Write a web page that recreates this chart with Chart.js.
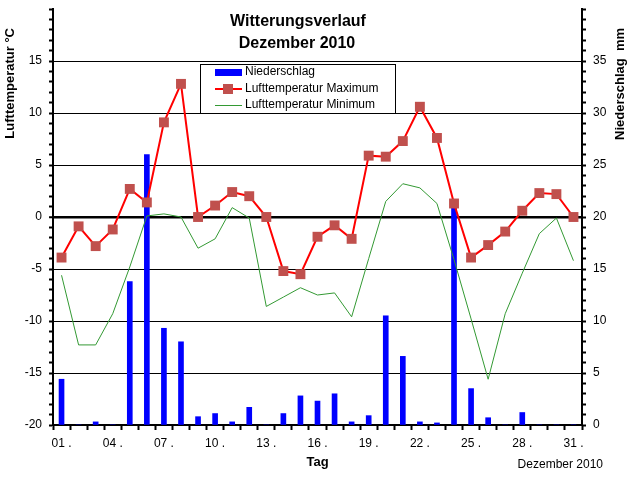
<!DOCTYPE html>
<html>
<head>
<meta charset="utf-8">
<script src="https://cdn.jsdelivr.net/npm/chart.js@4"></script>
<style>
  body { margin: 0; background: #fff; }
  #wrap { width: 631px; height: 481px; }
</style>
</head>
<body>
<div id="wrap"><canvas id="c" width="631" height="481"></canvas></div>
<script>
const days = ['01','02','03','04','05','06','07','08','09','10','11','12','13','14','15','16',
  '17','18','19','20','21','22','23','24','25','26','27','28','29','30','31'];
const shownDays = ['01','04','07','10','13','16','19','22','25','28','31'];
const niederschlag = [4.4,0,0.3,0,13.8,26.0,9.3,8.0,0.8,1.1,0.3,1.7,0,1.1,2.8,2.3,
  3.0,0.3,0.9,10.5,6.6,0.3,0.2,20.9,3.5,0.7,0,1.2,0,0,0];
const tempMax = [-3.9,-0.9,-2.8,-1.2,2.7,1.4,9.1,12.8,0.0,1.1,2.4,2.0,0.0,-5.2,-5.5,-1.9,
  -0.8,-2.1,5.9,5.8,7.3,10.6,7.6,1.3,-3.9,-2.7,-1.4,0.6,2.3,2.2,0.0];
const tempMin = [-5.6,-12.3,-12.3,-9.3,-4.8,0.1,0.3,0.0,-3.0,-2.1,0.9,-0.1,-8.6,-7.7,-6.8,-7.5,
  -7.3,-9.6,-4.0,1.5,3.2,2.8,1.3,-4.1,-9.8,-15.6,-9.3,-5.4,-1.6,-0.1,-4.2];

const FONT = 'Arial, "Liberation Sans", sans-serif';

// titles, legend box and footer text drawn on top
const overlay = {
  id: 'overlay',
  afterDraw(chart) {
    const ctx = chart.ctx;
    ctx.save();
    ctx.fillStyle = '#000';
    ctx.textBaseline = 'middle';

    ctx.font = 'bold 16px ' + FONT;
    ctx.textAlign = 'center';
    ctx.fillText('Witterungsverlauf', 298, 22);
    ctx.fillText('Dezember 2010', 297, 44);

    ctx.font = 'bold 13px ' + FONT;
    ctx.textAlign = 'right';
    ctx.save();
    ctx.translate(10, 28);
    ctx.rotate(-Math.PI / 2);
    ctx.fillText('Lufttemperatur °C', 0, 0);
    ctx.restore();
    ctx.save();
    ctx.translate(620, 28);
    ctx.rotate(-Math.PI / 2);
    ctx.fillText('Niederschlag  mm', 0, 0);
    ctx.restore();

    ctx.font = '12px ' + FONT;
    ctx.fillText('Dezember 2010', 603, 465);

    // legend
    ctx.fillStyle = '#fff';
    ctx.fillRect(200, 64, 196, 50);
    ctx.strokeStyle = '#000';
    ctx.lineWidth = 1;
    ctx.strokeRect(200.5, 64.5, 195, 49);
    const ds = chart.data.datasets;
    ctx.fillStyle = ds[2].backgroundColor;
    ctx.fillRect(215, 69, 27, 7);
    ctx.strokeStyle = ds[0].borderColor;
    ctx.lineWidth = 2;
    ctx.beginPath(); ctx.moveTo(215, 89); ctx.lineTo(242, 89); ctx.stroke();
    ctx.fillStyle = ds[0].pointBackgroundColor;
    ctx.fillRect(223, 84, 10, 10);
    ctx.strokeStyle = ds[1].borderColor;
    ctx.lineWidth = 1;
    ctx.beginPath(); ctx.moveTo(215, 105.5); ctx.lineTo(242, 105.5); ctx.stroke();
    ctx.fillStyle = '#000';
    ctx.textAlign = 'left';
    ctx.fillText(ds[2].label, 245, 72);
    ctx.fillText(ds[0].label, 245, 89);
    ctx.fillText(ds[1].label, 245, 105);
    ctx.restore();
  }
};

new Chart(document.getElementById('c'), {
  type: 'bar',
  data: {
    labels: days,
    datasets: [
      {
        type: 'line', label: 'Lufttemperatur Maximum', data: tempMax, yAxisID: 'y',
        borderColor: '#ff0000', borderWidth: 2, tension: 0,
        pointStyle: 'rect', pointRadius: 7, pointBorderWidth: 0,
        pointBackgroundColor: '#c0504d', order: 0
      },
      {
        type: 'line', label: 'Lufttemperatur Minimum', data: tempMin, yAxisID: 'y',
        borderColor: '#339933', borderWidth: 1, tension: 0, pointRadius: 0, order: 1
      },
      {
        type: 'bar', label: 'Niederschlag', data: niederschlag, yAxisID: 'y2',
        backgroundColor: '#0000ff', barThickness: 5, order: 2
      }
    ]
  },
  options: {
    responsive: false,
    animation: false,
    layout: { padding: { top: 9 } },
    plugins: {
      legend: { display: false },
      tooltip: { enabled: false }
    },
    scales: {
      x: {
        offset: true,
        afterFit: s => { s.height = 56; },
        grid: { offset: true, drawOnChartArea: false, tickLength: 5, tickColor: '#000', tickWidth: 2 },
        border: { color: '#000', width: 2 },
        ticks: {
          autoSkip: false, maxRotation: 0, padding: 6, color: '#000',
          font: { size: 12, family: FONT },
          callback: function (v) {
            const d = this.getLabelForValue(v);
            return shownDays.includes(d) ? d + ' .' : '';
          }
        },
        title: {
          display: true, text: 'Tag', color: '#000',
          font: { size: 13, weight: 'bold', family: FONT },
          padding: { top: 0, bottom: 11 }
        }
      },
      y: {
        position: 'left', min: -20, max: 20,
        afterFit: s => { s.width = 53; s.paddingTop = 0; s.paddingBottom = 0; },
        border: { color: '#000', width: 2 },
        grid: {
          tickLength: 4, tickColor: '#000', tickWidth: 2,
          color: c => (c.tick.value % 5 === 0 && Math.abs(c.tick.value) < 20) ? '#000' : 'rgba(0,0,0,0)',
          lineWidth: c => c.tick.value === 0 ? 2.5 : 1
        },
        ticks: {
          stepSize: 1, autoSkip: false, padding: 7, color: '#000',
          font: { size: 12, family: FONT },
          callback: v => (v % 5 === 0 && v < 20) ? String(v) : ''
        }
      },
      y2: {
        position: 'right', min: 0, max: 40,
        afterFit: s => { s.width = 49; s.paddingTop = 0; s.paddingBottom = 0; },
        border: { color: '#000', width: 2 },
        grid: { drawOnChartArea: false, tickLength: 4, tickColor: '#000', tickWidth: 2 },
        ticks: {
          stepSize: 1, autoSkip: false, padding: 7, color: '#000',
          font: { size: 12, family: FONT },
          callback: v => (v % 5 === 0 && v < 40) ? String(v) : ''
        }
      }
    }
  },
  plugins: [overlay]
});
</script>
</body>
</html>
